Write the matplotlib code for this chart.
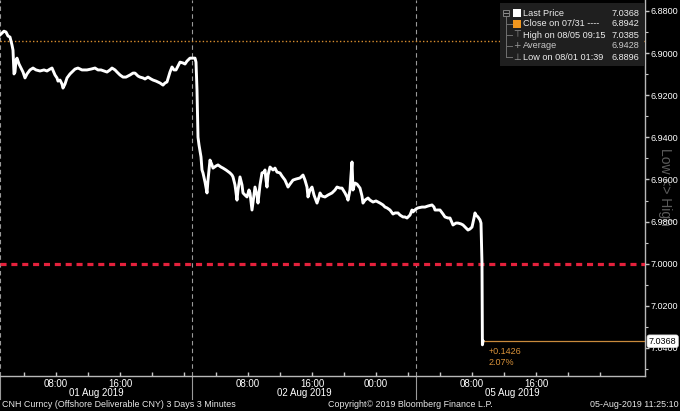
import matplotlib
matplotlib.use("Agg")
import matplotlib.pyplot as plt
import matplotlib.transforms as mtransforms
from matplotlib.patches import Rectangle

plt.rcParams['font.family'] = ['Liberation Sans', 'DejaVu Sans']

# ---------------- data ----------------
# x = trading-session hours since 01 Aug 2019 01:00 (weekend removed)
hours = [
    0.000, 0.250, 0.500, 0.750, 1.000, 1.250, 1.500, 1.625, 1.750, 1.875,
    2.000, 2.125, 2.375, 2.625, 2.875, 3.125, 3.375, 3.750, 4.125, 4.500,
    5.000, 5.500, 5.875, 6.250, 6.500, 6.875, 7.125, 7.250, 7.500, 7.750,
    7.875, 8.125, 8.375, 8.750, 9.000, 9.375, 9.750, 10.250, 10.875, 11.375,
    11.875, 12.250, 12.625, 13.000, 13.375, 13.750, 14.000, 14.375, 14.625, 15.000,
    15.375, 15.750, 16.250, 16.625, 16.875, 17.250, 17.500, 17.875, 18.125, 18.500,
    18.875, 19.125, 19.500, 20.000, 20.375, 20.625, 20.875, 21.250, 21.500, 21.750,
    22.000, 22.250, 22.500, 22.875, 23.125, 23.375, 23.750, 24.000, 24.375, 24.500,
    24.625, 24.750, 24.875, 25.125, 25.250, 25.375, 25.625, 25.875, 26.000, 26.250,
    26.500, 26.625, 27.000, 27.250, 27.625, 27.875, 28.250, 28.750, 29.000, 29.125,
    29.375, 29.625, 29.750, 30.000, 30.250, 30.375, 30.625, 30.875, 31.125, 31.250,
    31.500, 31.750, 31.875, 32.125, 32.250, 32.500, 32.750, 33.000, 33.125, 33.250,
    33.375, 33.500, 33.750, 34.125, 34.375, 34.625, 35.000, 35.250, 35.625, 36.000,
    36.250, 36.625, 37.000, 37.500, 37.875, 38.125, 38.375, 38.500, 38.750, 39.000,
    39.250, 39.625, 39.875, 40.000, 40.250, 40.625, 41.000, 41.500, 41.875, 42.125,
    42.500, 42.750, 43.125, 43.375, 43.500, 43.750, 43.875, 44.000, 44.125, 44.250,
    44.375, 44.625, 45.000, 45.250, 45.375, 45.625, 46.000, 46.250, 46.625, 47.000,
    47.500, 47.875, 48.125, 48.375, 48.750, 49.125, 49.375, 49.750, 50.000, 50.375,
    50.625, 50.875, 51.250, 51.500, 51.625, 52.000, 52.250, 52.750, 53.125, 53.500,
    54.000, 54.250, 54.375, 54.750, 55.000, 55.375, 55.625, 56.000, 56.250, 56.625,
    57.000, 57.250, 57.625, 57.875, 58.250, 58.500, 58.750, 59.000, 59.250, 59.375,
    59.500, 59.750, 60.000, 60.125, 60.250, 60.300, 60.375,
]
prices = [
    6.8914, 6.8905, 6.8896, 6.8900, 6.8919, 6.8924, 6.8962, 6.8986, 6.9099, 6.9090,
    6.9033, 6.9024, 6.9052, 6.9071, 6.9090, 6.9118, 6.9099, 6.9080, 6.9071, 6.9080,
    6.9085, 6.9080, 6.9085, 6.9076, 6.9071, 6.9104, 6.9118, 6.9133, 6.9128, 6.9147,
    6.9166, 6.9147, 6.9118, 6.9099, 6.9090, 6.9076, 6.9071, 6.9080, 6.9080, 6.9076,
    6.9071, 6.9080, 6.9080, 6.9085, 6.9090, 6.9080, 6.9071, 6.9080, 6.9090, 6.9104,
    6.9114, 6.9114, 6.9104, 6.9095, 6.9095, 6.9109, 6.9114, 6.9118, 6.9123, 6.9114,
    6.9123, 6.9128, 6.9133, 6.9142, 6.9152, 6.9142, 6.9137, 6.9090, 6.9066, 6.9080,
    6.9080, 6.9062, 6.9043, 6.9047, 6.9052, 6.9038, 6.9024, 6.9024, 6.9024, 6.9043,
    6.9175, 6.9399, 6.9436, 6.9493, 6.9555, 6.9569, 6.9612, 6.9664, 6.9603, 6.9508,
    6.9531, 6.9546, 6.9536, 6.9531, 6.9541, 6.9546, 6.9555, 6.9569, 6.9579, 6.9588,
    6.9626, 6.9698, 6.9650, 6.9588, 6.9626, 6.9664, 6.9674, 6.9683, 6.9650, 6.9664,
    6.9745, 6.9674, 6.9636, 6.9674, 6.9712, 6.9626, 6.9569, 6.9565, 6.9555, 6.9603,
    6.9636, 6.9579, 6.9541, 6.9555, 6.9546, 6.9565, 6.9569, 6.9584, 6.9603, 6.9636,
    6.9622, 6.9603, 6.9598, 6.9593, 6.9579, 6.9603, 6.9636, 6.9683, 6.9650, 6.9636,
    6.9674, 6.9712, 6.9683, 6.9664, 6.9679, 6.9683, 6.9674, 6.9664, 6.9650, 6.9636,
    6.9641, 6.9641, 6.9664, 6.9683, 6.9698, 6.9650, 6.9579, 6.9517, 6.9650, 6.9631,
    6.9617, 6.9622, 6.9641, 6.9679, 6.9712, 6.9698, 6.9688, 6.9698, 6.9707, 6.9702,
    6.9712, 6.9721, 6.9731, 6.9735, 6.9745, 6.9764, 6.9759, 6.9759, 6.9769, 6.9778,
    6.9778, 6.9783, 6.9769, 6.9745, 6.9754, 6.9740, 6.9735, 6.9731, 6.9731, 6.9726,
    6.9721, 6.9731, 6.9745, 6.9745, 6.9745, 6.9764, 6.9778, 6.9783, 6.9783, 6.9816,
    6.9807, 6.9807, 6.9811, 6.9816, 6.9830, 6.9840, 6.9835, 6.9826, 6.9783, 6.9759,
    6.9769, 6.9778, 6.9792, 6.9807, 7.0000, 7.0385, 7.0368,
]
close_price = 6.8942
threshold_level = 7.0000
session_starts = [0, 24, 52]
x_range = [0, 80.625]
y_range = [7.0533, 6.8748]

xtick_hours = [3, 7, 11, 15, 19, 23, 27, 31, 35, 39, 43, 47, 51, 55, 59, 63, 67, 71, 75]
xtick_labels = ['', '08:00', '', '16:00', '', '', '', '08:00', '', '16:00', '', '00:00',
                '', '', '08:00', '', '16:00', '', '']
day_label_hours = [12, 38, 64]
day_labels = ['01 Aug 2019', '02 Aug 2019', '05 Aug 2019']
ytick_major = [6.88, 6.90, 6.92, 6.94, 6.96, 6.98, 7.00, 7.02, 7.04]
ytick_minor = [6.89, 6.91, 6.93, 6.95, 6.97, 6.99, 7.01, 7.03, 7.05]

legend_names = ['Last Price', 'Close on 07/31 ----', 'High on 08/05 09:15', 'Average',
                'Low on 08/01 01:39']
legend_values = ['7.0368', '6.8942', '7.0385', '6.9428', '6.8896']

footer_left = 'CNH Curncy (Offshore Deliverable CNY) 3 Days 3 Minutes'
footer_mid = 'Copyright\u00a9 2019 Bloomberg Finance L.P.'
footer_right = '05-Aug-2019 11:25:10'

# ---------------- figure ----------------
W, H = 680, 411
fig = plt.figure(figsize=(W / 100, H / 100), dpi=100, facecolor='black')
ax = fig.add_axes([0, 35 / H, 645 / W, 376 / H])
ax.set_facecolor('black')
ax.set_xlim(*x_range)
ax.set_ylim(*y_range)

ax.plot(hours, prices, color='white', lw=2.1, solid_joinstyle='round', zorder=5)
ax.axhline(close_price, color='#d88d2e', lw=1.0, ls=(0, (1, 1.6)), zorder=2)
ax.axhline(threshold_level, color='#e5213c', lw=2.3, ls=(0, (1.9, 1.5)), zorder=3)

blend_xa = mtransforms.blended_transform_factory(ax.transData, ax.transAxes)
for s in session_starts:
    ax.axvline(s, color='#9a9a9a', lw=0.8, ls=(0, (4, 3)), zorder=1)
    ax.plot([s, s], [0, -0.062], transform=blend_xa, clip_on=False,
            color='#9a9a9a', lw=0.8)

last_price = prices[-1]
ax.hlines(last_price, hours[-1], x_range[1], color='#c98a3c', lw=0.9, zorder=4)
change = last_price - close_price
ax.annotate(f'+{change:.4f}', xy=(hours[-1], last_price), xytext=(4, -7.5),
            textcoords='offset points', color='#d9923a', fontsize=6.5,
            va='center', ha='left')
ax.annotate(f'{change / close_price * 100:.2f}%', xy=(hours[-1], last_price),
            xytext=(4, -15.5), textcoords='offset points', color='#d9923a',
            fontsize=6.5, va='center', ha='left')

# spines
for side in ['left', 'top']:
    ax.spines[side].set_visible(False)
for side in ['right', 'bottom']:
    ax.spines[side].set_color('#b8b8b8')
    ax.spines[side].set_linewidth(1.0)

# y axis
ax.yaxis.tick_right()
ax.set_yticks(ytick_major)
ax.set_yticklabels([f'{v:.4f}' for v in ytick_major])
ax.set_yticks(ytick_minor, minor=True)
ax.tick_params(axis='y', which='major', length=3, width=1.0, color='#c8c8c8',
               labelcolor='white', labelsize=6.5, pad=1)
ax.tick_params(axis='y', which='minor', length=2.5, width=0.8, color='#c8c8c8')

# x axis
ax.set_xticks(xtick_hours)
ax.set_xticklabels(xtick_labels)
ax.tick_params(axis='x', which='major', direction='in', length=3, width=1.0,
               color='#c8c8c8', labelcolor='white', labelsize=7, pad=2.5)
for h, lab in zip(day_label_hours, day_labels):
    ax.text(h, -0.046, lab, transform=blend_xa, ha='center', va='center',
            color='white', fontsize=7)

# last price tag
blend_ay = mtransforms.blended_transform_factory(ax.transAxes, ax.transData)
ax.text(1.006, last_price, f'{last_price:.4f}', transform=blend_ay, ha='left',
        va='center', color='black', fontsize=6.5, clip_on=False, zorder=10,
        bbox=dict(boxstyle='round,pad=0.2,rounding_size=0.25', fc='white',
                  ec='#dddddd', lw=0.5))

# Low <> High side text (watermark behind tick labels)
fig.text(665 / W, 1 - 187 / H, 'Low <> High', rotation=270, color='#5c5c5c',
         fontsize=10, ha='center', va='center', zorder=-1)

# ---------------- legend ----------------
def fx(px):
    return px / W

def fy(py):
    return 1 - py / H

fig.patches.append(Rectangle((fx(500), fy(66)), fx(644) - fx(500), fy(3) - fy(66),
                             transform=fig.transFigure, facecolor='#1f1f1f',
                             edgecolor='none', zorder=2))
row_y = [13, 24, 35, 46, 57]
fig.lines.append(plt.Line2D([fx(506), fx(506)], [fy(16), fy(57)],
                            transform=fig.transFigure, color='#707070', lw=0.7, zorder=3))
for ry in row_y[1:]:
    fig.lines.append(plt.Line2D([fx(506), fx(512)], [fy(ry), fy(ry)],
                                transform=fig.transFigure, color='#707070', lw=0.7, zorder=3))
fig.patches.append(Rectangle((fx(503), fy(16)), fx(6), fy(10) - fy(16),
                             transform=fig.transFigure, facecolor='#1f1f1f',
                             edgecolor='#808080', lw=0.7, zorder=3))
fig.lines.append(plt.Line2D([fx(504), fx(508)], [fy(13), fy(13)],
                            transform=fig.transFigure, color='#909090', lw=0.7, zorder=4))
fig.patches.append(Rectangle((fx(513), fy(17)), fx(8), fy(9) - fy(17),
                             transform=fig.transFigure, facecolor='white',
                             edgecolor='none', zorder=3))
fig.patches.append(Rectangle((fx(513), fy(28)), fx(8), fy(20) - fy(28),
                             transform=fig.transFigure, facecolor='#f0961e',
                             edgecolor='none', zorder=3))
legend_icons = ['', '', '\u22a4', '+', '\u22a5']
for i, (ry, name, val) in enumerate(zip(row_y, legend_names, legend_values)):
    if legend_icons[i]:
        fig.text(fx(517), fy(ry), legend_icons[i], color='#9a9a9a', fontsize=6.5,
                 ha='center', va='center', family=['DejaVu Sans'], zorder=4)
    col = '#c8c8c8' if name == 'Average' else '#ececec'
    fig.text(fx(523), fy(ry), name, color=col, fontsize=6.6, ha='left', va='center', zorder=4)
    fig.text(fx(639), fy(ry), val, color=col, fontsize=6.6, ha='right', va='center', zorder=4)

# ---------------- footer ----------------
fig.text(fx(2), fy(404), footer_left, color='#e8e8e8', fontsize=6.4, ha='left', va='center')
fig.text(fx(328), fy(404), footer_mid, color='#e8e8e8', fontsize=6.4, ha='left', va='center')
fig.text(fx(679), fy(404), footer_right, color='#e8e8e8', fontsize=6.4, ha='right', va='center')

fig.savefig('out.png', dpi=100, facecolor='black')
